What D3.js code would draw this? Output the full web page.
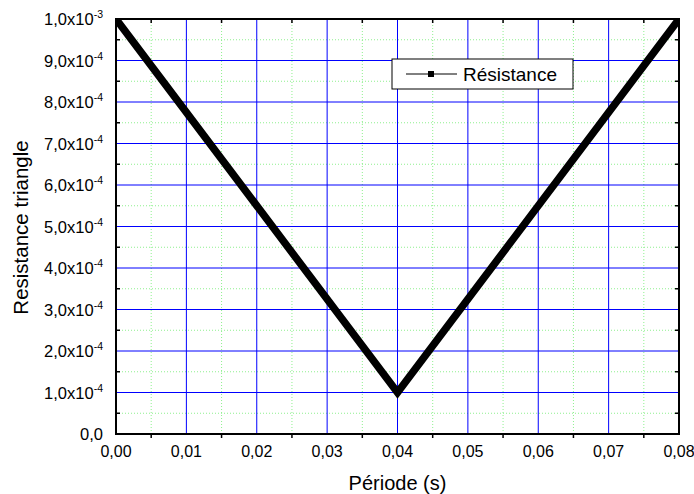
<!DOCTYPE html>
<html>
<head>
<meta charset="utf-8">
<script src="https://cdn.jsdelivr.net/npm/d3@7"></script>
<style>
  body { margin: 0; background: #fff; }
  text { font-family: "Liberation Sans", Arial, sans-serif; fill: #000; }
</style>
</head>
<body>
<svg id="chart" width="694" height="494"></svg>
<script>
// data
const periods = [0, 0.04, 0.08];
const resistance = [1.0e-3, 1.0e-4, 1.0e-3];
const xTicks = [0, 0.01, 0.02, 0.03, 0.04, 0.05, 0.06, 0.07, 0.08];
const yTicks = [0, 1e-4, 2e-4, 3e-4, 4e-4, 5e-4, 6e-4, 7e-4, 8e-4, 9e-4, 1e-3];
const seriesName = "Résistance";

const width = 694, height = 494;
const margin = { top: 19, right: 15, bottom: 60, left: 116 };
const svg = d3.select("#chart");

const x = d3.scaleLinear().domain([0, 0.08]).range([margin.left, width - margin.right]);
const y = d3.scaleLinear().domain([0, 1e-3]).range([height - margin.bottom, margin.top]);

const x0 = x(0), x1 = x(0.08), y0 = y(0), y1 = y(1e-3);

svg.append("defs").append("clipPath").attr("id", "plot")
  .append("rect").attr("x", x0).attr("y", y1).attr("width", x1 - x0).attr("height", y0 - y1);

// minor grid (green dotted)
const xMinor = xTicks.slice(0, -1).map(t => t + 0.005);
const yMinor = yTicks.slice(0, -1).map(t => t + 0.5e-4);

svg.append("g").selectAll("line").data(xMinor).enter().append("line")
  .attr("x1", d => x(d)).attr("x2", d => x(d)).attr("y1", y0).attr("y2", y1)
  .attr("stroke", "#8ef08e").attr("stroke-width", 1).attr("stroke-dasharray", "1,2");
svg.append("g").selectAll("line").data(yMinor).enter().append("line")
  .attr("y1", d => y(d)).attr("y2", d => y(d)).attr("x1", x0).attr("x2", x1)
  .attr("stroke", "#8ef08e").attr("stroke-width", 1).attr("stroke-dasharray", "1,2");

// major grid (blue)
svg.append("g").selectAll("line").data(xTicks.slice(1, -1)).enter().append("line")
  .attr("x1", d => x(d)).attr("x2", d => x(d)).attr("y1", y0).attr("y2", y1)
  .attr("stroke", "#0000ff").attr("stroke-width", 1);
svg.append("g").selectAll("line").data(yTicks.slice(1, -1)).enter().append("line")
  .attr("y1", d => y(d)).attr("y2", d => y(d)).attr("x1", x0).attr("x2", x1)
  .attr("stroke", "#0000ff").attr("stroke-width", 1);

// minor ticks: bottom outward, others inward
const tickLen = 4;
svg.append("g").selectAll("line").data(xMinor).enter().append("line")
  .attr("x1", d => x(d)).attr("x2", d => x(d)).attr("y1", y0).attr("y2", y0 + tickLen)
  .attr("stroke", "#000").attr("stroke-width", 1.5);
svg.append("g").selectAll("line").data(xMinor).enter().append("line")
  .attr("x1", d => x(d)).attr("x2", d => x(d)).attr("y1", y1).attr("y2", y1 + tickLen)
  .attr("stroke", "#000").attr("stroke-width", 1.5);
svg.append("g").selectAll("line").data(yMinor).enter().append("line")
  .attr("y1", d => y(d)).attr("y2", d => y(d)).attr("x1", x0).attr("x2", x0 + tickLen)
  .attr("stroke", "#000").attr("stroke-width", 1.5);
svg.append("g").selectAll("line").data(yMinor).enter().append("line")
  .attr("y1", d => y(d)).attr("y2", d => y(d)).attr("x1", x1).attr("x2", x1 - tickLen)
  .attr("stroke", "#000").attr("stroke-width", 1.5);

// data line
const pts = periods.map((p, i) => [p, resistance[i]]);
svg.append("path")
  .datum(pts)
  .attr("clip-path", "url(#plot)")
  .attr("fill", "none")
  .attr("stroke", "#000")
  .attr("stroke-width", 7.5)
  .attr("stroke-linejoin", "miter")
  .attr("d", d3.line().x(d => x(d[0])).y(d => y(d[1])));

// frame
svg.append("rect")
  .attr("x", x0).attr("y", y1).attr("width", x1 - x0).attr("height", y0 - y1)
  .attr("fill", "none").attr("stroke", "#000").attr("stroke-width", 2);

// x tick labels
const fmtX = d => d.toFixed(2).replace(".", ",");
svg.append("g").selectAll("text").data(xTicks).enter().append("text")
  .attr("x", d => x(d)).attr("y", y0 + 23)
  .attr("text-anchor", "middle").attr("font-size", 16)
  .text(fmtX);

// y tick labels with superscript exponent
const yLab = svg.append("g").selectAll("text").data(yTicks).enter().append("text")
  .attr("x", x0 - 13).attr("y", d => y(d) + 6)
  .attr("text-anchor", "end").attr("font-size", 16.5);
yLab.each(function (d) {
  const t = d3.select(this);
  if (d === 0) { t.text("0,0"); return; }
  const e = Math.floor(Math.log10(d) + 1e-9);
  const m = d / Math.pow(10, e);
  t.append("tspan").text(m.toFixed(1).replace(".", ",") + "x10");
  t.append("tspan").attr("font-size", 10.5).attr("dy", -7).text(String(e));
});

// axis titles
svg.append("text")
  .attr("x", (x0 + x1) / 2).attr("y", 490)
  .attr("text-anchor", "middle").attr("font-size", 20)
  .text("Période (s)");
svg.append("text")
  .attr("transform", `translate(28,${(y0 + y1) / 2 + 1}) rotate(-90)`)
  .attr("text-anchor", "middle").attr("font-size", 20.5)
  .text("Resistance triangle");

// legend
const lg = svg.append("g").attr("transform", "translate(392,59)");
lg.append("rect").attr("width", 181).attr("height", 30)
  .attr("fill", "#fff").attr("stroke", "#000").attr("stroke-width", 1);
lg.append("line").attr("x1", 14).attr("x2", 65).attr("y1", 15).attr("y2", 15)
  .attr("stroke", "#000").attr("stroke-width", 1);
lg.append("rect").attr("x", 36).attr("y", 12).attr("width", 6).attr("height", 6).attr("fill", "#000");
lg.append("text").attr("x", 71).attr("y", 22).attr("font-size", 19).text(seriesName);
</script>
</body>
</html>
